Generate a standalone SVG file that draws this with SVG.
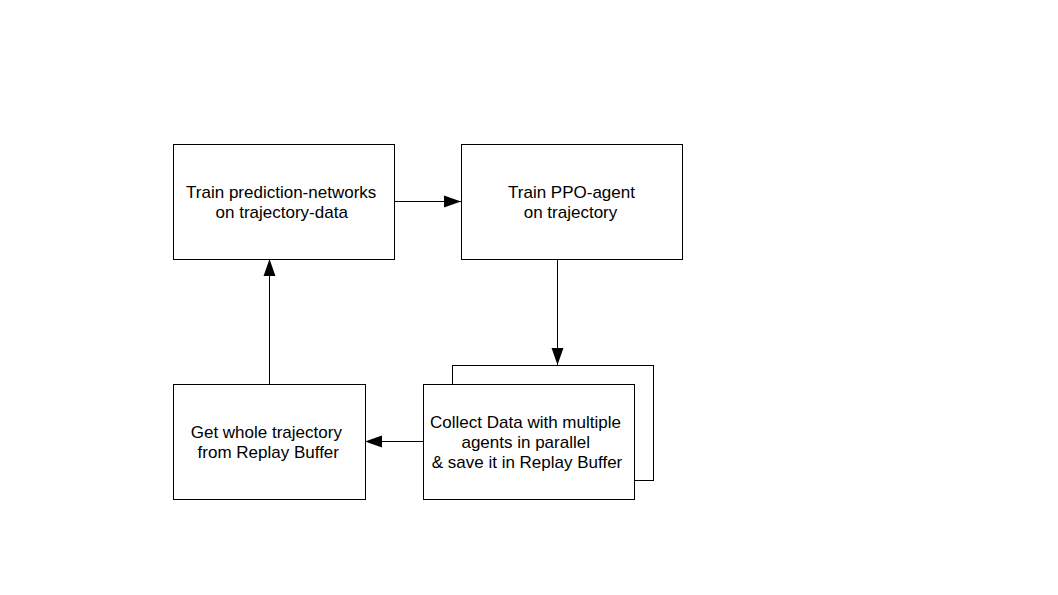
<svg xmlns="http://www.w3.org/2000/svg" width="1058" height="595" viewBox="0 0 1058 595">
<defs>
<style>
.box{fill:#fff;stroke:#000;stroke-width:1}
.lbl{font-family:"Liberation Sans",Arial,sans-serif;font-size:17px;fill:#000;text-anchor:middle}
.con{stroke:#000;stroke-width:1;fill:none}
</style>
<marker id="ah" viewBox="0 0 10 10" refX="10" refY="5" markerWidth="17" markerHeight="17" markerUnits="userSpaceOnUse" orient="auto">
<path d="M0,1.5 L10,5 L0,8.5 Z" fill="#000"/>
</marker>
</defs>
<rect width="1058" height="595" fill="#fff"/>
<g id="connectors">
<line class="con" x1="394.5" y1="201.5" x2="461" y2="201.5" marker-end="url(#ah)"/>
<line class="con" x1="557.5" y1="259.5" x2="557.5" y2="365" marker-end="url(#ah)"/>
<line class="con" x1="423" y1="441.5" x2="365" y2="441.5" marker-end="url(#ah)"/>
<line class="con" x1="269.5" y1="384" x2="269.5" y2="259" marker-end="url(#ah)"/>
</g>
<g id="train-pred">
<rect class="box" x="173.5" y="144.5" width="221" height="115"/>
<text class="lbl" x="281.2" y="198">Train prediction-networks</text>
<text class="lbl" x="281.7" y="218">on trajectory-data</text>
</g>
<g id="train-ppo">
<rect class="box" x="461.5" y="144.5" width="221" height="115"/>
<text class="lbl" x="571.5" y="198">Train PPO-agent</text>
<text class="lbl" x="570.5" y="218">on trajectory</text>
</g>
<g id="collect">
<rect class="box" x="452.5" y="365.5" width="201" height="115"/>
<rect class="box" x="423.5" y="384.5" width="211" height="115"/>
<text class="lbl" x="525.5" y="428">Collect Data with multiple</text>
<text class="lbl" x="525.7" y="448">agents in parallel</text>
<text class="lbl" x="527" y="468">&amp; save it in Replay Buffer</text>
</g>
<g id="get-traj">
<rect class="box" x="173.5" y="384.5" width="192" height="115"/>
<text class="lbl" x="266.3" y="438">Get whole trajectory</text>
<text class="lbl" x="268.3" y="458">from Replay Buffer</text>
</g>
</svg>
